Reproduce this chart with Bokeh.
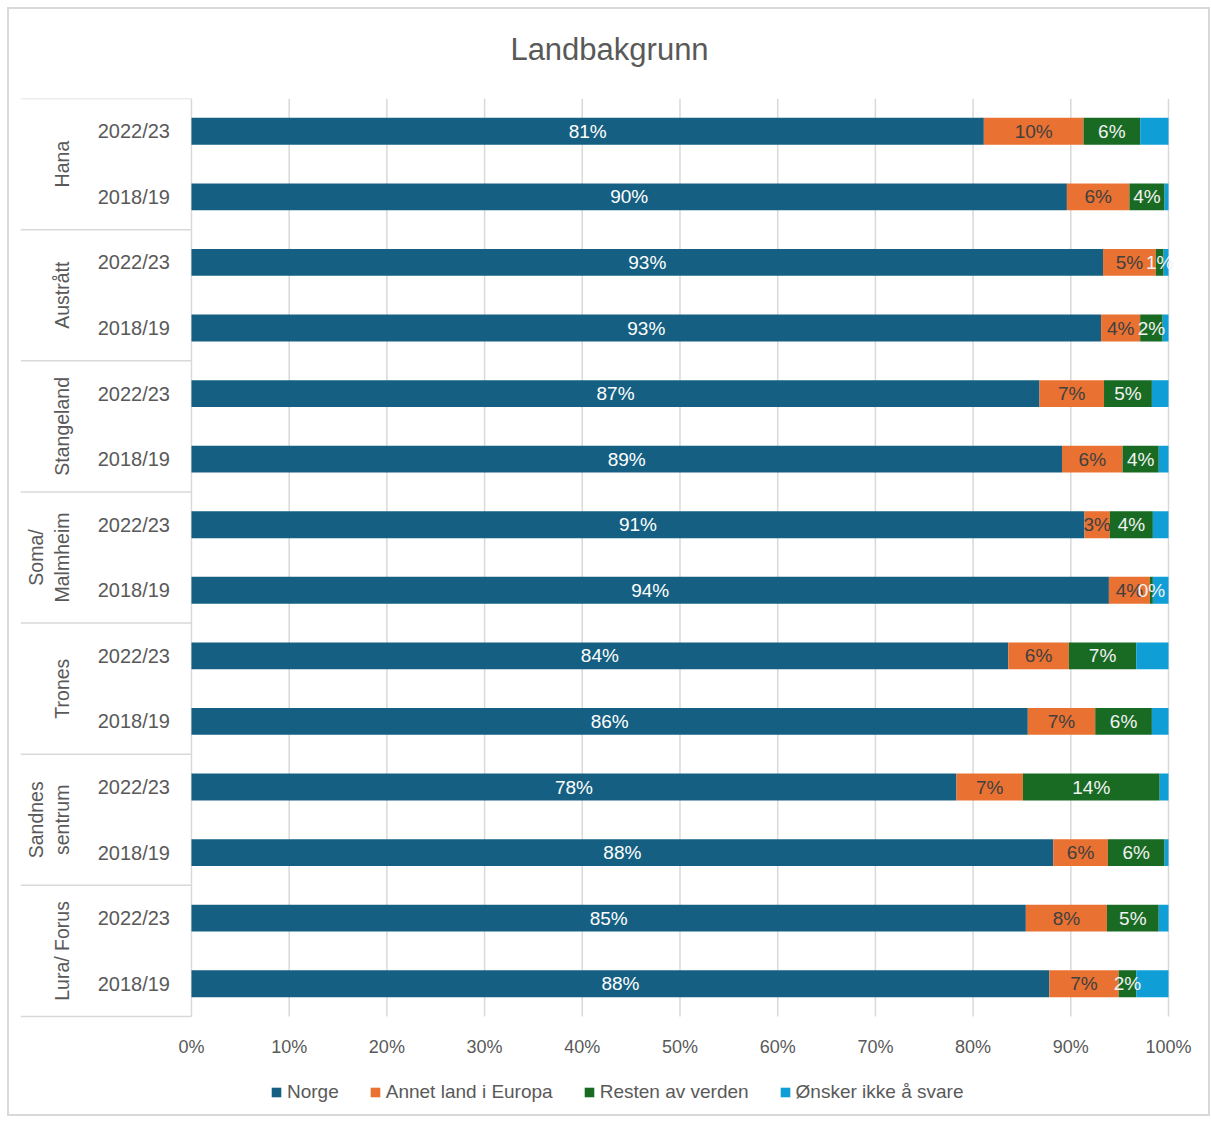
import math
from bokeh.plotting import figure
from bokeh.models import ColumnDataSource, Range1d, FixedTicker, Legend, LegendItem, Title
from bokeh.core.properties import value
from bokeh.embed import file_html
from bokeh.resources import INLINE

# ---------------- data ----------------
groups = ["Hana", "Austrått", "Stangeland", "Soma/\nMalmheim", "Trones", "Sandnes\nsentrum", "Lura/ Forus"]
years = ["2022/23", "2018/19"]
series = ["Norge", "Annet land i Europa", "Resten av verden", "Ønsker ikke å svare"]

# one value per row, rows ordered group by group: 2022/23 then 2018/19
norge   = [81.1, 89.6, 93.3, 93.1, 86.8, 89.1, 91.4, 93.9, 83.6, 85.6, 78.3, 88.2, 85.4, 87.8]
europa  = [10.2,  6.4,  5.4,  4.0,  6.6,  6.2,  2.6,  4.2,  6.2,  6.9,  6.8,  5.6,  8.3,  7.1]
verden  = [ 5.8,  3.6,  0.8,  2.3,  4.9,  3.7,  4.4,  0.3,  6.9,  5.8, 14.0,  5.8,  5.3,  1.8]
ikke    = [ 2.9,  0.4,  0.5,  0.6,  1.7,  1.0,  1.6,  1.6,  3.3,  1.7,  0.9,  0.4,  1.0,  3.3]

tick_values = [0, 10, 20, 30, 40, 50, 60, 70, 80, 90, 100]

colors = ["#156082", "#E97132", "#196B24", "#0F9ED5"]
label_colors = ["#FFFFFF", "#404040", "#F2F2F2", None]

FONT = "Liberation Sans"
GRAY = "#595959"
LINE = "#D9D9D9"

n_rows = len(norge)
row_y = [i + 0.5 for i in range(n_rows)]
row_year = [years[i % 2] for i in range(n_rows)]

src = ColumnDataSource(dict(y=row_y, norge=norge, europa=europa, verden=verden, ikke=ikke))

PX_PER_PCT = 9.77
X0 = -17.5
X1 = 100 + 30 / PX_PER_PCT          # room right of 100% for its tick label
ROW_PX = 918 / n_rows
Y_END = n_rows + (1016 - 918) / ROW_PX   # room below the bars for tick labels and legend

p = figure(frame_width=1178, frame_height=1016, output_backend="svg", toolbar_location=None,
           x_range=Range1d(X0, X1), y_range=Range1d(Y_END, 0),
           min_border_left=11, min_border_right=10, min_border_top=89, min_border_bottom=0)
p.styles = {"border": "2px solid #D9D9D9", "margin": "7px 0 0 7px"}

p.title.text = "Landbakgrunn"
p.title.align = "center"
p.title.offset = 6
p.title.text_font = FONT
p.title.text_font_size = "31px"
p.title.text_font_style = "normal"
p.title.text_color = GRAY
spacer = Title(text=" ", text_font_size="13px")
p.above.insert(0, spacer)

p.outline_line_color = None
p.ygrid.visible = False
p.xgrid.visible = False
p.yaxis.visible = False
p.xaxis.fixed_location = n_rows
p.xaxis.ticker = FixedTicker(ticks=tick_values)
p.xaxis.major_label_overrides = {v: f"{v}%" for v in tick_values}
p.xaxis.axis_line_color = None
p.xaxis.major_tick_line_color = None
p.xaxis.minor_tick_line_color = None
p.xaxis.major_label_text_font = FONT
p.xaxis.major_label_text_font_size = "18px"
p.xaxis.major_label_text_color = GRAY
p.xaxis.major_label_standoff = 14

# vertical gridlines over the bar area only
p.segment(x0=tick_values, x1=tick_values, y0=[0] * len(tick_values), y1=[n_rows] * len(tick_values),
          line_color=LINE, line_width=1.5)

# group separators
sep_y = [2 * g for g in range(len(groups) + 1)]
p.segment(x0=[X0] * len(sep_y), x1=[0] * len(sep_y), y0=sep_y, y1=sep_y,
          line_color=LINE, line_width=1.5)

# bars
stack_cols = ["norge", "europa", "verden", "ikke"]
renderers = p.hbar_stack(stack_cols, y="y", height=0.41, color=colors, line_color=None, source=src)

# data labels
cols = [norge, europa, verden, ikke]
for k in range(3):
    xs, ys, txt = [], [], []
    for i in range(n_rows):
        left = sum(cols[j][i] for j in range(k))
        v = cols[k][i]
        xs.append(left + v / 2)
        ys.append(row_y[i])
        txt.append(f"{v:.0f}%")
    p.text(x=xs, y=ys, text=txt, text_align="center", text_baseline="middle",
           text_font=value(FONT), text_font_size="19px", text_color=label_colors[k])

# category axis (years)
p.text(x=[-2.2] * n_rows, y=row_y, text=row_year, text_align="right", text_baseline="middle",
       text_font=value(FONT), text_font_size="20px", text_color=GRAY)

# group labels
gy = [2 * g + 1 for g in range(len(groups))]
p.text(x=[-12.1] * len(groups), y=gy, text=groups, angle=math.pi / 2,
       text_align="center", text_baseline="bottom", text_line_height=1.2,
       text_font=value(FONT), text_font_size="19.5px", text_color=GRAY)

legend = Legend(items=[LegendItem(label=s, renderers=[r]) for s, r in zip(series, renderers)],
                orientation="horizontal", location=(250, 11),
                label_text_font=FONT, label_text_font_size="19px", label_text_color=GRAY,
                glyph_width=12, glyph_height=12, label_standoff=5, spacing=30,
                padding=0, margin=0,
                background_fill_alpha=0, border_line_alpha=0)
p.add_layout(legend)

open("out.html", "w").write(file_html(p, INLINE))
